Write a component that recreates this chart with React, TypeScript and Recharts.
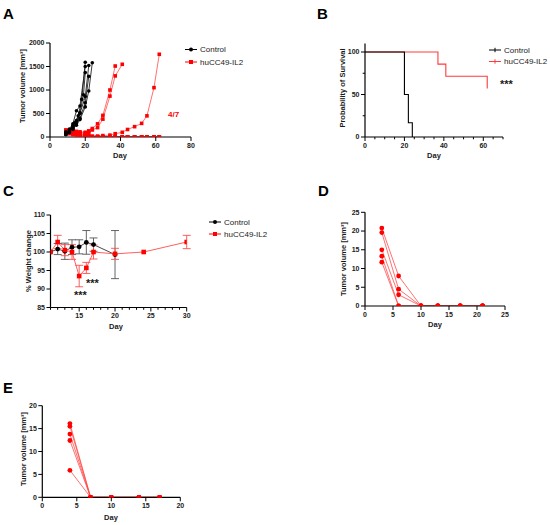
import React from 'react';
import { LineChart, Line, XAxis, YAxis, ErrorBar } from 'recharts';

const FONT = '"Liberation Sans", Arial, Helvetica, sans-serif';
const RED = '#ff0000';
const RED_LINE = '#ff4d4d';
const INK = '#1a1a1a';

// ---- A: tumour growth per mouse, [day, volume mm3]
const controlMiceA = [
  [[9, 80], [11, 130], [13, 220], [14, 300], [16, 450], [18, 800], [20, 1590]],
  [[9, 110], [11, 170], [13, 280], [15, 560], [17, 660], [20, 1500]],
  [[9, 60], [11, 100], [13, 180], [15, 330], [17, 520], [19, 900], [20, 1370]],
  [[9, 90], [11, 150], [13, 250], [15, 350], [17, 500], [20, 860], [22, 1520]],
  [[9, 50], [11, 90], [13, 160], [15, 280], [17, 400], [20, 730], [22, 1290]],
  [[9, 70], [11, 110], [13, 190], [15, 250], [17, 370], [20, 640], [22, 980], [24, 1580]],
];
const treatedMiceA = [
  [[9, 150], [11, 120], [13, 110], [15, 100], [17, 110], [20, 100], [22, 130], [24, 180], [27, 280], [30, 460], [34, 1000], [37, 1510]],
  [[9, 130], [11, 100], [13, 80], [15, 70], [17, 90], [20, 90], [22, 100], [24, 150], [27, 200], [30, 380], [34, 870], [37, 1300], [41, 1547]],
  [[9, 100], [11, 80], [13, 70], [15, 60], [17, 50], [20, 40], [22, 30], [24, 20], [27, 20], [30, 30], [34, 40], [37, 70], [41, 100], [44, 160], [48, 220], [52, 290], [55, 450], [59, 1050], [62, 1760]],
  [[9, 120], [11, 100], [13, 80], [15, 60], [17, 40], [20, 20], [22, 10], [24, 0], [27, 0], [30, 0], [34, 0], [37, 0], [41, 0], [44, 0], [48, 0], [52, 0], [55, 0], [59, 0], [62, 0]],
  [[9, 90], [11, 140], [13, 110], [15, 90], [17, 60], [20, 30], [22, 0], [24, 0], [27, 0], [30, 0], [34, 0], [37, 0], [41, 0], [44, 0], [48, 0], [52, 0], [55, 0], [59, 0], [62, 0]],
  [[9, 60], [11, 70], [13, 50], [15, 40], [17, 30], [20, 10], [22, 0], [24, 0], [27, 0], [30, 0], [34, 0], [37, 0], [41, 0], [44, 0], [48, 0], [52, 0], [55, 0], [59, 0], [62, 0]],
  [[9, 140], [11, 110], [13, 130], [15, 120], [17, 80], [20, 50], [22, 20], [24, 0], [27, 0], [30, 0], [34, 0], [37, 0], [41, 0], [44, 0], [48, 0], [52, 0], [55, 0], [59, 0], [62, 0]],
];
const ticksAx = [0, 20, 40, 60, 80];
const ticksAy = [0, 500, 1000, 1500, 2000];

// ---- B: Kaplan-Meier survival
const survCtrlDays = [0, 20, 22, 24];
const survCtrlPct = [100, 50, 16.7, 0];
const survTrtDays = [0, 37, 41, 62];
const survTrtPct = [100, 85.7, 71.4, 57.1];
const ticksBx = [0, 5, 10, 15, 20, 25, 30, 35, 40, 45, 50, 55, 60, 65, 70];
const majorsBx = [0, 20, 40, 60];
const ticksBy = [0, 25, 50, 75, 100];
const majorsBy = [0, 50, 100];

// ---- C: % weight change, mean and SD
const weightCtrlDays = [11, 12, 13, 14, 15, 16, 17, 20];
const weightCtrlMean = [100, 100.8, 100.2, 101.3, 101.4, 102.6, 102.0, 99.3];
const weightCtrlSd = [0, 1.5, 2.2, 2.0, 1.9, 3.2, 1.8, 6.5];
const weightTrtDays = [11, 12, 13, 14, 15, 16, 17, 20, 24, 30];
const weightTrtMean = [100, 102.7, 100.5, 100.0, 93.5, 95.7, 100.0, 99.5, 100.0, 102.7];
const weightTrtSd = [0, 1.8, 1.5, 2.0, 2.9, 1.5, 1.9, 1.5, 0, 1.8];
const ticksCx = [11, 12, 13, 14, 15, 16, 17, 18, 19, 20, 21, 22, 23, 24, 25, 26, 27, 28, 29, 30];
const majorsCx = [15, 20, 25, 30];
const ticksCy = [85, 90, 95, 100, 105, 110];

// ---- D: tumour volume per mouse
const daysD = [3, 6, 10, 13, 17, 21];
const miceD = [
  [20.8, 8.0, 0, 0, 0, 0],
  [19.6, 4.5, 0, 0, 0, 0],
  [15.0, 3.0, 0, 0, 0, 0],
  [13.3, 0, 0, 0, 0, 0],
  [11.7, 0, 0, 0, 0, 0],
];
const ticksD = [0, 5, 10, 15, 20, 25];

// ---- E: tumour volume per mouse
const daysE = [4, 7, 10, 14, 17];
const miceE = [
  [16.1, 0, 0, 0, 0],
  [15.5, 0, 0, 0, 0],
  [13.8, 0, 0, 0, 0],
  [12.4, 0, 0, 0, 0],
  [5.9, 0, 0, 0, 0],
];
const ticksE = [0, 5, 10, 15, 20];

const pairs = (p: number[][]) => p.map(([d, v]) => ({ d, v }));
const zipPts = (days: number[], vals: number[], sd?: number[]) =>
  days.map((d, i) => ({ d, v: vals[i], e: sd ? sd[i] : 0 }));

const Square = ({ cx, cy, sz = 4, color = RED }: any) =>
  cx == null || cy == null ? null : <rect x={cx - sz / 2} y={cy - sz / 2} width={sz} height={sz} fill={color} />;
const Dot = ({ cx, cy, rad = 2, color = '#000' }: any) =>
  cx == null || cy == null ? null : <circle cx={cx} cy={cy} r={rad} fill={color} />;

const tickText = { fontSize: 7, fontWeight: 700, fill: INK, fontFamily: FONT } as const;

const BottomTick = ({ x, y, payload, majors }: any) => {
  const major = !majors || majors.includes(payload.value);
  const top = y - 4;
  return (
    <g>
      <line x1={x} x2={x} y1={top} y2={top + (major ? 4 : 2.3)} stroke="#000" strokeWidth={1} />
      {major && (
        <text x={x} y={top + 6} dy="0.71em" textAnchor="middle" {...tickText}>
          {payload.value}
        </text>
      )}
    </g>
  );
};

const LeftTick = ({ x, y, payload, majors }: any) => {
  const major = !majors || majors.includes(payload.value);
  const right = x + 4;
  return (
    <g>
      <line x1={right} x2={right - (major ? 4 : 2.3)} y1={y} y2={y} stroke="#000" strokeWidth={1} />
      {major && (
        <text x={x - 1.5} y={y} dy="0.35em" textAnchor="end" {...tickText}>
          {payload.value}
        </text>
      )}
    </g>
  );
};

const axisLine = { stroke: '#000', strokeWidth: 1.2 };

function xAxis(domain: number[], ticks: number[], majors?: number[]) {
  return (
    <XAxis
      type="number"
      dataKey="d"
      domain={domain}
      ticks={ticks}
      interval={0}
      height={20}
      tickSize={4}
      tickMargin={0}
      tickLine={false}
      axisLine={axisLine}
      tick={<BottomTick majors={majors} />}
      allowDataOverflow
    />
  );
}

function yAxis(domain: number[], ticks: number[], width: number, majors?: number[]) {
  return (
    <YAxis
      type="number"
      domain={domain}
      ticks={ticks}
      interval={0}
      width={width}
      tickSize={4}
      tickMargin={0}
      tickLine={false}
      axisLine={axisLine}
      tick={<LeftTick majors={majors} />}
      allowDataOverflow
    />
  );
}

const box = (left: number, top: number): React.CSSProperties => ({ position: 'absolute', left, top });

function PanelA() {
  return (
    <div style={box(0, 30)}>
      <LineChart width={200} height={135} margin={{ top: 13, right: 9, bottom: 8, left: 16 }}>
        {xAxis([0, 80], ticksAx)}
        {yAxis([0, 2000], ticksAy, 34)}
        {treatedMiceA.map((m, i) => (
          <Line key={'t' + i} data={pairs(m)} dataKey="v" type="linear" stroke={RED_LINE} strokeWidth={0.8}
            dot={<Square sz={3.6} color={RED} />} activeDot={false} isAnimationActive={false} />
        ))}
        {controlMiceA.map((m, i) => (
          <Line key={'c' + i} data={pairs(m)} dataKey="v" type="linear" stroke="#222" strokeWidth={0.9}
            dot={<Dot rad={1.8} color="#000" />} activeDot={false} isAnimationActive={false} />
        ))}
      </LineChart>
    </div>
  );
}

function PanelB() {
  return (
    <div style={box(300, 30)}>
      <LineChart width={215} height={135} margin={{ top: 13.5, right: 12, bottom: 8, left: 35 }}>
        {xAxis([0, 70], ticksBx, majorsBx)}
        {yAxis([0, 110], ticksBy, 30, majorsBy)}
        <Line data={zipPts(survTrtDays, survTrtPct)} dataKey="v" type="stepAfter" stroke="#ff3b3b" strokeWidth={1.1}
          dot={false} activeDot={false} isAnimationActive={false} />
        <Line data={zipPts(survCtrlDays, survCtrlPct)} dataKey="v" type="stepAfter" stroke="#000" strokeWidth={1.1}
          dot={false} activeDot={false} isAnimationActive={false} />
      </LineChart>
    </div>
  );
}

function PanelC() {
  return (
    <div style={box(0, 200)}>
      <LineChart width={200} height={130} margin={{ top: 15, right: 13.3, bottom: 2.5, left: 20.5 }}>
        {xAxis([11, 30], ticksCx, majorsCx)}
        {yAxis([85, 110], ticksCy, 30)}
        <Line data={zipPts(weightCtrlDays, weightCtrlMean, weightCtrlSd)} dataKey="v" type="linear" stroke="#333" strokeWidth={0.9}
          dot={<Dot rad={2.4} color="#000" />} activeDot={false} isAnimationActive={false}>
          <ErrorBar dataKey="e" direction="y" width={4} stroke="#555" strokeWidth={0.9} />
        </Line>
        <Line data={zipPts(weightTrtDays, weightTrtMean, weightTrtSd)} dataKey="v" type="linear" stroke={RED_LINE} strokeWidth={0.9}
          dot={<Square sz={4.6} color={RED} />} activeDot={false} isAnimationActive={false}>
          <ErrorBar dataKey="e" direction="y" width={4} stroke={RED_LINE} strokeWidth={0.9} />
        </Line>
      </LineChart>
    </div>
  );
}

function PanelMice({ left, top, width, margin, days, mice, ticks, yWidth }: any) {
  return (
    <div style={box(left, top)}>
      <LineChart width={width} height={130} margin={margin}>
        {xAxis([ticks[0], ticks[ticks.length - 1]], ticks)}
        {yAxis([ticks[0], ticks[ticks.length - 1]], ticks, yWidth)}
        {mice.map((vals: number[], i: number) => (
          <Line key={i} data={zipPts(days, vals)} dataKey="v" type="linear" stroke={RED_LINE} strokeWidth={0.8}
            dot={<Dot rad={2.4} color={RED} />} activeDot={false} isAnimationActive={false} />
        ))}
      </LineChart>
    </div>
  );
}

const labelStyle = { fontSize: 7.5, fontWeight: 700, fill: INK, fontFamily: FONT } as const;

const VLabel = ({ cx, cy, children }: any) => (
  <text transform={`translate(${cx + 2.7},${cy}) rotate(-90)`} textAnchor="middle" {...labelStyle}>{children}</text>
);
const HLabel = ({ cx, cy, children }: any) => (
  <text x={cx} y={cy + 2.7} textAnchor="middle" {...labelStyle}>{children}</text>
);
const Letter = ({ x, y, children }: any) => (
  <text x={x} y={y} fontSize={15} fontWeight={700} fill="#000" fontFamily={FONT}>{children}</text>
);
const Stars = ({ x, y }: any) => (
  <text x={x} y={y} fontSize={11} fontWeight={700} fill={INK} fontFamily={FONT}>***</text>
);

const LegendRow = ({ x, y, color, kind, label }: any) => (
  <g>
    <line x1={x} x2={x + 12} y1={y} y2={y} stroke={color} strokeWidth={1} />
    {kind === 'circle' && <circle cx={x + 6} cy={y} r={2} fill={color} />}
    {kind === 'square' && <rect x={x + 4} y={y - 2} width={4} height={4} fill={color} />}
    {kind === 'tick' && <line x1={x + 6} x2={x + 6} y1={y - 2.2} y2={y + 2.2} stroke={color} strokeWidth={1} />}
    <text x={x + 15} y={y + 2.9} fontSize={8} fill="#222" fontFamily={FONT}>{label}</text>
  </g>
);

function Overlay() {
  return (
    <svg width={550} height={525} style={{ position: 'absolute', left: 0, top: 0, pointerEvents: 'none' }}>
      <Letter x={3} y={19}>A</Letter>
      <Letter x={317} y={19}>B</Letter>
      <Letter x={3} y={196}>C</Letter>
      <Letter x={318} y={196}>D</Letter>
      <Letter x={3} y={393}>E</Letter>

      <VLabel cx={22.5} cy={86}>Tumor volume [mm³]</VLabel>
      <HLabel cx={120} cy={155}>Day</HLabel>
      <VLabel cx={342} cy={88}>Probability of Survival</VLabel>
      <HLabel cx={434} cy={155}>Day</HLabel>
      <VLabel cx={28} cy={261}>% Weight change</VLabel>
      <HLabel cx={116} cy={326}>Day</HLabel>
      <VLabel cx={343} cy={259}>Tumor volume [mm³]</VLabel>
      <HLabel cx={435} cy={324}>Day</HLabel>
      <VLabel cx={23} cy={449}>Tumor volume [mm³]</VLabel>
      <HLabel cx={111} cy={517}>Day</HLabel>

      <LegendRow x={185} y={49.5} color="#000" kind="circle" label="Control" />
      <LegendRow x={185} y={62} color={RED} kind="square" label="huCC49-IL2" />
      <LegendRow x={489} y={50} color="#000" kind="tick" label="Control" />
      <LegendRow x={489} y={61.5} color="#ff3b3b" kind="tick" label="huCC49-IL2" />
      <LegendRow x={209} y={222} color="#000" kind="circle" label="Control" />
      <LegendRow x={209} y={234} color={RED} kind="square" label="huCC49-IL2" />

      <text x={168} y={117.4} fontSize={8} fontWeight={700} fill={RED} fontFamily={FONT}>4/7</text>
      <Stars x={500} y={88} />
      <Stars x={74} y={299.4} />
      <Stars x={86} y={287.4} />
    </svg>
  );
}

export default function App() {
  return (
    <div style={{ position: 'absolute', left: 0, top: 0, width: 550, height: 525, background: '#fff', fontFamily: FONT }}>
      <PanelA />
      <PanelB />
      <PanelC />
      <PanelMice left={300} top={200} width={215} margin={{ top: 12.3, right: 10, bottom: 4, left: 35 }}
        days={daysD} mice={miceD} ticks={ticksD} yWidth={30} />
      <PanelMice left={0} top={390} width={200} margin={{ top: 15.7, right: 19.7, bottom: 2.7, left: 16.3 }}
        days={daysE} mice={miceE} ticks={ticksE} yWidth={26} />
      <Overlay />
    </div>
  );
}
